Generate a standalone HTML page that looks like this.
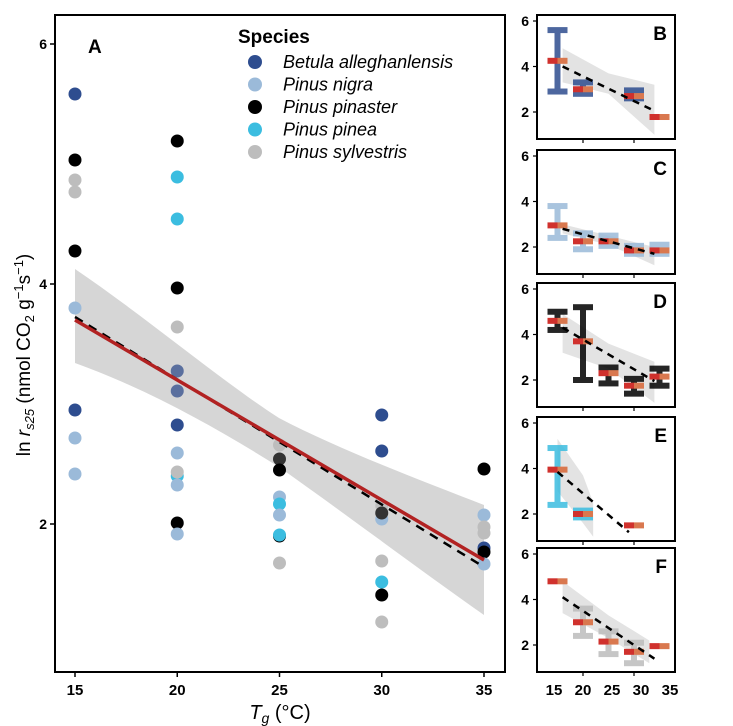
<!DOCTYPE html>
<html><head><meta charset="utf-8"><style>
html,body{margin:0;padding:0;background:#fff;}
svg{display:block;font-family:"Liberation Sans",Arial,sans-serif;}
</style></head><body>
<svg id="s" width="733" height="726" viewBox="0 0 733 726" xmlns="http://www.w3.org/2000/svg"></svg>
<script>
var s=document.getElementById('s'),h='';
var DB='#2e4d8f',LB='#9bbad9',BK='#000',CY='#3bbde0',GR='#bdbdbd';
function X(t){return 75+(t-15)*20.45;}
h+='<path d="M75,269 C150,320 220,380 279,418 C340,450 420,480 484,505 L484,615 C420,570 340,510 279,467 C220,430 150,390 75,363 Z" fill="#d6d6d6"/>';
var P=[[15,94,DB],[15,160,BK],[15,180,GR],[15,192,GR],[15,251,BK],[15,308,LB],[15,410,DB],[15,438,LB],[15,474,LB],
[20,141,BK],[20,177,CY],[20,219,CY],[20,288,BK],[20,327,GR],[20,371,'#5a6f9e'],[20,391,'#5a6f9e'],[20,425,DB],[20,453,LB],[20,476,CY],[20,485,LB],[20,472,GR],[20,523,BK],[20,534,LB],
[25,445,GR],[25,459,'#333'],[25,470,BK],[25,497,LB],[25,504,CY],[25,515,LB],[25,536,BK],[25,535,CY],[25,563,GR],
[30,415,DB],[30,451,DB],[30,506,GR],[30,519,LB],[30,513,'#333'],[30,561,GR],[30,582,CY],[30,595,BK],[30,622,GR],
[35,469,BK],[35,515,LB],[35,527,GR],[35,533,GR],[35,548,DB],[35,552,BK],[35,564,LB]];
P.forEach(function(p){h+='<circle cx="'+X(p[0])+'" cy="'+p[1]+'" r="6.5" fill="'+p[2]+'"/>';});
h+='<line x1="75" y1="317" x2="484" y2="567" stroke="#000" stroke-width="2.5" stroke-dasharray="9,7"/>';
h+='<line x1="75" y1="320" x2="484" y2="560" stroke="#b22222" stroke-width="3.5"/>';
h+='<rect x="55" y="15" width="450" height="657" fill="none" stroke="#000" stroke-width="2"/>';
[[6,44],[4,284],[2,524]].forEach(function(k){h+='<line x1="50" y1="'+k[1]+'" x2="55" y2="'+k[1]+'" stroke="#000" stroke-width="1.5"/><text x="47" y="'+(k[1]+5)+'" font-size="14" font-weight="bold" text-anchor="end">'+k[0]+'</text>';});
[15,20,25,30,35].forEach(function(t){var x=X(t);h+='<line x1="'+x+'" y1="672" x2="'+x+'" y2="677" stroke="#000" stroke-width="1.5"/><text x="'+x+'" y="695" font-size="15" font-weight="bold" text-anchor="middle">'+t+'</text>';});
h+='<text x="280" y="719" font-size="20" text-anchor="middle"><tspan font-style="italic">T</tspan><tspan font-style="italic" font-size="14" dy="4">g</tspan><tspan dy="-4"> (°C)</tspan></text>';
h+='<text transform="translate(30,355) rotate(-90)" font-size="19" text-anchor="middle">ln <tspan font-style="italic">r</tspan><tspan font-style="italic" font-size="13" dy="4">s25</tspan><tspan dy="-4">  (nmol CO</tspan><tspan font-size="13" dy="4">2</tspan><tspan dy="-4"> g</tspan><tspan font-size="13" dy="-7">−1</tspan><tspan dy="7">s</tspan><tspan font-size="13" dy="-7">−1</tspan><tspan dy="7">)</tspan></text>';
h+='<text x="88" y="53" font-size="19" font-weight="bold">A</text>';
h+='<text x="238" y="43" font-size="19" font-weight="bold">Species</text>';
var L=[['Betula alleghanlensis',DB],['Pinus nigra',LB],['Pinus pinaster',BK],['Pinus pinea',CY],['Pinus sylvestris',GR]];
L.forEach(function(l,i){var y=62+i*22.5;h+='<circle cx="255" cy="'+y+'" r="7" fill="'+l[1]+'"/><text x="283" y="'+(y+6)+'" font-size="18" font-style="italic">'+l[0]+'</text>';});
function PX(t){return 557.5+(t-15)*5.1;}
var panels=[
{top:15,L:'B',c:DB,bars:[[15,2.9,5.6],[20,2.8,3.3],[30,2.6,2.95]],means:[[15,4.25],[20,3.0],[30,2.7],[35,1.78]],d:[16,4.0,34,2.05],band:[[16,3.3,4.8],[25,2.8,3.7],[34,1.0,3.2]]},
{top:150,L:'C',c:LB,bars:[[15,2.4,3.8],[20,1.9,2.6],[25,2.05,2.5],[30,1.7,2.05],[35,1.7,2.1]],means:[[15,2.95],[20,2.25],[25,2.25],[30,1.85],[35,1.85]],d:[16,2.8,34,1.7],band:[[16,2.6,3.0],[25,2.1,2.5],[34,1.2,2.0]]},
{top:283,L:'D',c:BK,bars:[[15,4.2,5.0],[20,2.0,5.2],[25,1.85,2.55],[30,1.4,2.05],[35,1.75,2.5]],means:[[15,4.6],[20,3.7],[25,2.3],[30,1.75],[35,2.15]],d:[16,4.3,34,1.95],band:[[16,3.2,4.9],[25,2.5,3.6],[34,1.0,2.8]]},
{top:417,L:'E',c:CY,bars:[[15,2.4,4.9],[20,1.85,2.15]],means:[[15,3.95],[20,2.0],[30,1.5]],d:[15,3.85,29,1.2],band:[[15,3.0,5.3],[20,1.6,3.7],[22,1.0,2.5]]},
{top:548,L:'F',c:GR,bars:[[20,2.4,3.6],[25,1.6,2.6],[30,1.2,2.1]],means:[[15,4.8],[20,3.0],[25,2.15],[30,1.7],[35,1.95]],d:[16,4.1,34,1.4],band:[[16,3.4,4.8],[25,2.3,3.3],[33,1.2,2.2]]}
];
panels.forEach(function(p){
 function Y(v){return p.top+6+(6-v)*22.75;}
 var b=p.band,pts=[];
 b.forEach(function(q){pts.push(PX(q[0])+','+Y(q[2]));});
 for(var i=b.length-1;i>=0;i--)pts.push(PX(b[i][0])+','+Y(b[i][1]));
 h+='<polygon points="'+pts.join(' ')+'" fill="#e3e3e3"/>';
 p.bars.forEach(function(q){var x=PX(q[0]),y1=Y(q[2]),y2=Y(q[1]);
  h+='<g fill="'+p.c+'" opacity="0.85"><rect x="'+(x-3)+'" y="'+y1+'" width="6" height="'+(y2-y1)+'"/><rect x="'+(x-10)+'" y="'+(y1-3)+'" width="20" height="6"/><rect x="'+(x-10)+'" y="'+(y2-3)+'" width="20" height="6"/></g>';});
 p.means.forEach(function(q){var x=PX(q[0]),y=Y(q[1]);
  h+='<rect x="'+(x-10)+'" y="'+(y-3)+'" width="10" height="6" fill="#d0312d"/><rect x="'+x+'" y="'+(y-3)+'" width="10" height="6" fill="#d9784f"/>';});
 h+='<line x1="'+PX(p.d[0])+'" y1="'+Y(p.d[1])+'" x2="'+PX(p.d[2])+'" y2="'+Y(p.d[3])+'" stroke="#000" stroke-width="2.5" stroke-dasharray="7,6"/>';
 h+='<rect x="537" y="'+p.top+'" width="138" height="124" fill="none" stroke="#000" stroke-width="2"/>';
 [6,4,2].forEach(function(v){var y=Y(v);h+='<line x1="533" y1="'+y+'" x2="537" y2="'+y+'" stroke="#000" stroke-width="1.2"/><text x="529" y="'+(y+5)+'" font-size="14" font-weight="bold" text-anchor="end">'+v+'</text>';});
 [20,30].forEach(function(t){h+='<line x1="'+PX(t)+'" y1="'+(p.top+124)+'" x2="'+PX(t)+'" y2="'+(p.top+128)+'" stroke="#000" stroke-width="1.2"/>';});
 h+='<text x="667" y="'+(p.top+25)+'" font-size="19" font-weight="bold" text-anchor="end">'+p.L+'</text>';
});
[15,20,25,30,35].forEach(function(t){h+='<text x="'+(554+(t-15)*29/5)+'" y="695" font-size="15" font-weight="bold" text-anchor="middle">'+t+'</text>';});
s.innerHTML=h;
</script>
</body></html>
